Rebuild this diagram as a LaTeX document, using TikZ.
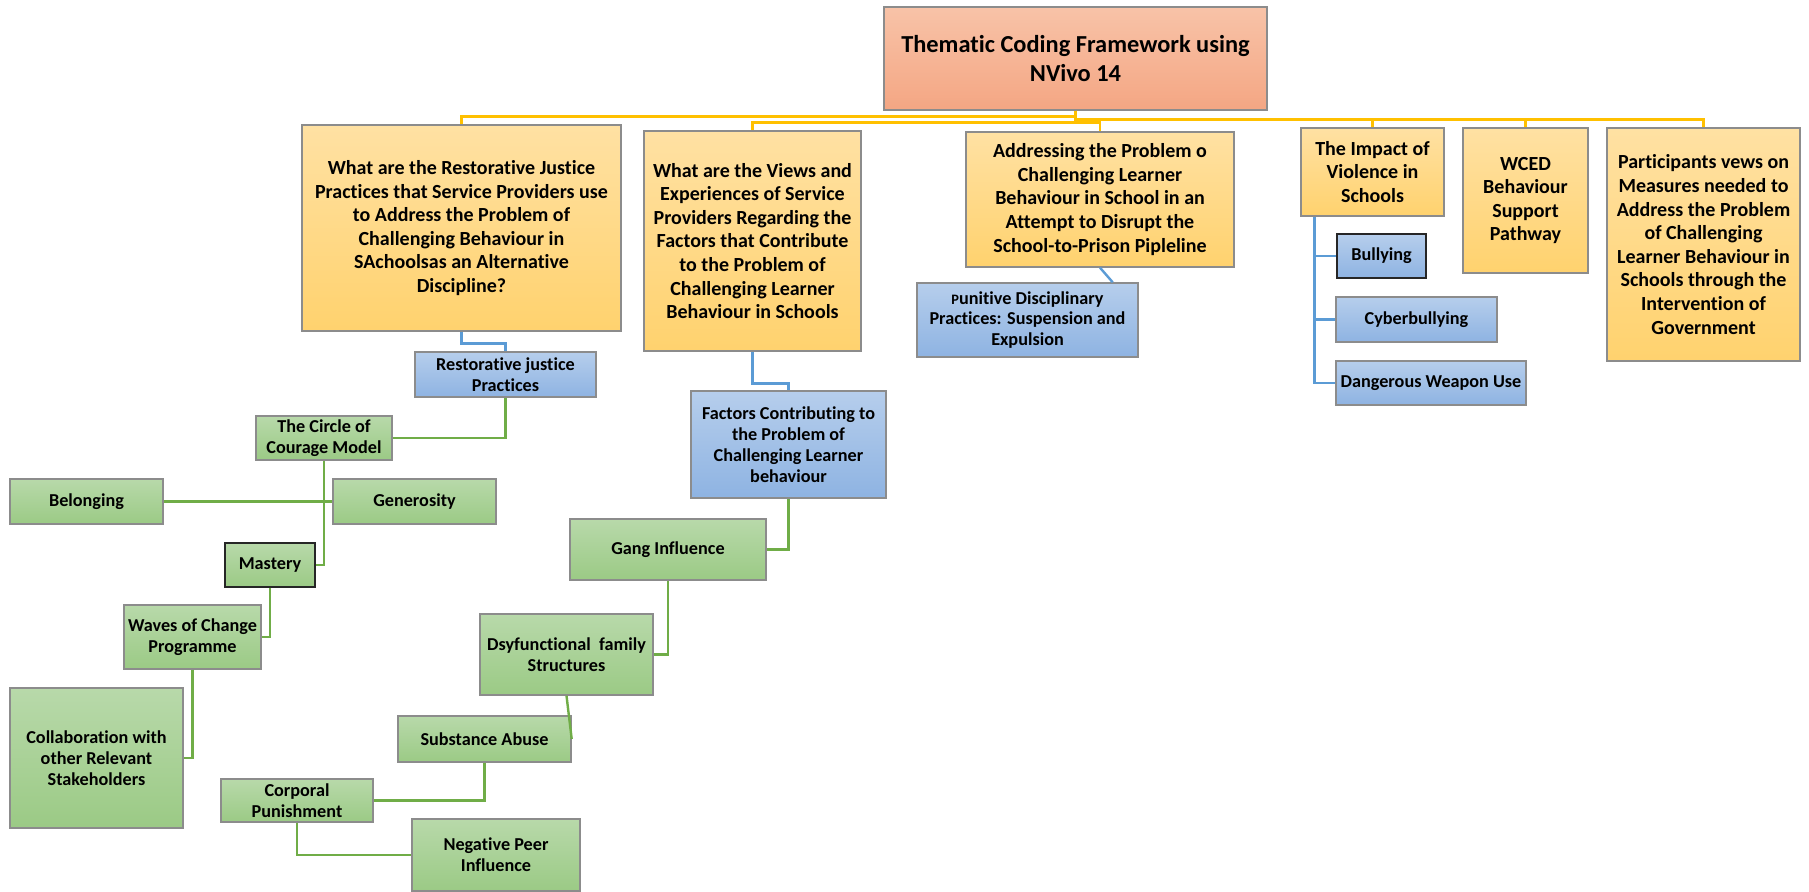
\documentclass[tikz,border=0pt]{standalone}
\usepackage{fontspec}
\setmainfont{Carlito}[Ligatures=NoCommon]
\usetikzlibrary{calc}
\definecolor{ytop}{HTML}{FFE1A3}
\definecolor{ybot}{HTML}{FFD26E}
\definecolor{otop}{HTML}{F8C3A8}
\definecolor{obot}{HTML}{F4A683}
\definecolor{btop}{HTML}{B6CEEC}
\definecolor{bbot}{HTML}{8EB3E2}
\definecolor{gtop}{HTML}{B8D9AA}
\definecolor{gbot}{HTML}{9BCA85}
\definecolor{bord}{HTML}{8C8C8C}
\definecolor{ycol}{HTML}{FFC000}
\definecolor{bcol}{HTML}{5B9BD5}
\definecolor{gcol}{HTML}{70AD47}
\tikzset{
 cbox/.style={draw=bord, line width=0.7pt, inner sep=0pt, align=center},
 topbox/.style={cbox, top color=otop, bottom color=obot, font=\bfseries\fontsize{12.2}{14.5}\selectfont},
 ybx/.style={cbox, top color=ytop, bottom color=ybot, font=\bfseries\fontsize{10}{11.8}\selectfont},
 bbx/.style={cbox, top color=btop, bottom color=bbot, font=\bfseries\fontsize{9.1}{10.4}\selectfont},
 gbx/.style={cbox, top color=gtop, bottom color=gbot, font=\bfseries\fontsize{9.1}{10.6}\selectfont},
 darkb/.style={draw=black!85},
 ycon/.style={draw=ycol, line width=1.2pt},
 bcon/.style={draw=bcol, line width=1.2pt},
 gcon/.style={draw=gcol, line width=1.2pt},
}
\newcommand\bx[7]{\node[#6, minimum width={(#4-#2)*0.5pt}, minimum height={(#5-#3)*0.5pt}] (#1) at ({(#2+#4)/2},{(#3+#5)/2}) {#7};}
\begin{document}
\begin{tikzpicture}[x=0.5pt,y=-0.5pt]
\useasboundingbox[fill=white] (0,0) rectangle (1809,892);
% top
\bx{top}{884}{7}{1267}{110}{topbox}{Thematic Coding Framework using\\NVivo 14}
% level 1
\bx{RJ}{302}{125}{621}{331}{ybx}{What are the Restorative Justice\\Practices that Service Providers use\\to Address the Problem of\\Challenging Behaviour in\\SAchoolsas an Alternative\\Discipline?}
\bx{Views}{644}{131}{861}{351}{ybx}{What are the Views and\\Experiences of Service\\Providers Regarding the\\Factors that Contribute\\to the Problem of\\Challenging Learner\\Behaviour in Schools}
\bx{Addr}{966}{132}{1234}{267}{ybx}{Addressing the Problem o\\Challenging Learner\\Behaviour in School in an\\Attempt to Disrupt the\\School-to-Prison Pipleline}
\bx{Impact}{1301}{128}{1444}{216}{ybx}{The Impact of\\Violence in\\Schools}
\bx{WCED}{1463}{128}{1588}{273}{ybx}{WCED\\Behaviour\\Support\\Pathway}
\bx{Part}{1607}{128}{1800}{361}{ybx}{Participants vews on\\Measures needed to\\Address the Problem\\of Challenging\\Learner Behaviour in\\Schools through the\\Intervention of\\Government}
% blue
\bx{Pun}{917}{283}{1138}{357}{bbx}{{\fontsize{7.2}{8}\selectfont P}unitive Disciplinary\\Practices: Suspension and\\Expulsion}
\bx{Bully}{1337}{234}{1426}{278}{bbx,darkb}{Bullying}
\bx{Cyber}{1336}{297}{1497}{342}{bbx}{Cyberbullying}
\bx{Dang}{1336}{361}{1526}{405}{bbx}{Dangerous Weapon Use}
\bx{RJP}{415}{352}{596}{397}{bbx}{Restorative justice\\Practices}
\bx{Factors}{691}{391}{886}{498}{bbx}{Factors Contributing to\\the Problem of\\Challenging Learner\\behaviour}
% green
\bx{Circle}{256}{416}{392}{460}{gbx}{The Circle of\\Courage Model}
\bx{Belong}{10}{479}{163}{524}{gbx}{Belonging}
\bx{Gener}{333}{479}{496}{524}{gbx}{Generosity}
\bx{Mastery}{225}{543}{315}{587}{gbx,darkb}{Mastery}
\bx{Waves}{124}{605}{261}{669}{gbx}{Waves of Change\\Programme}
\bx{Collab}{10}{688}{183}{828}{gbx}{Collaboration with\\other Relevant\\Stakeholders}
\bx{Gang}{570}{519}{766}{580}{gbx}{Gang Influence}
\bx{Dysf}{480}{614}{653}{695}{gbx}{Dsyfunctional\ \ family\\Structures}
\bx{Subst}{398}{716}{571}{762}{gbx}{Substance Abuse}
\bx{Corp}{221}{779}{373}{822}{gbx}{Corporal\\Punishment}
\bx{NP}{412}{819}{580}{891}{gbx}{Negative Peer\\Influence}
% yellow connectors
\draw[ycon] (top.south) -- ++(0,6) -| (RJ.north);
\draw[ycon] (top.south) -- ++(0,12) -| (Views.north);
\draw[ycon] (top.south) -- ++(0,12) -| (Addr.north);
\draw[ycon] (top.south) -- ++(0,9) -| (Impact.north);
\draw[ycon] (top.south) -- ++(0,9) -| (WCED.north);
\draw[ycon] (top.south) -- ++(0,9) -| (Part.north);
% blue connectors
\draw[bcon] (RJ.south) -- ++(0,12) -| (RJP.north);
\draw[bcon] (Views.south) -- ++(0,32) -| (Factors.north);
\draw[bcon] (Addr.south) -- ($(Pun.north east)+(-26,0)$);
\coordinate (itr) at ($(Impact.south west)+(14,0)$);
\draw[bcon] (itr) |- (Bully.west);
\draw[bcon] (itr) |- (Cyber.west);
\draw[bcon] (itr) |- (Dang.west);
% green connectors
\draw[gcon] (RJP.south) |- (Circle.east);
\draw[gcon] (Circle.south) |- (Mastery.east);
\draw[gcon] (Belong.east) -- (Gener.west);
\draw[gcon] (Mastery.south) |- (Waves.east);
\draw[gcon] (Waves.south) |- (Collab.east);
\draw[gcon] (Factors.south) |- (Gang.east);
\draw[gcon] (Gang.south) |- (Dysf.east);
\draw[gcon] (Dysf.south) -- (Subst.east);
\draw[gcon] (Subst.south) |- (Corp.east);
\draw[gcon] (Corp.south) |- (NP.west);
\end{tikzpicture}
\end{document}
